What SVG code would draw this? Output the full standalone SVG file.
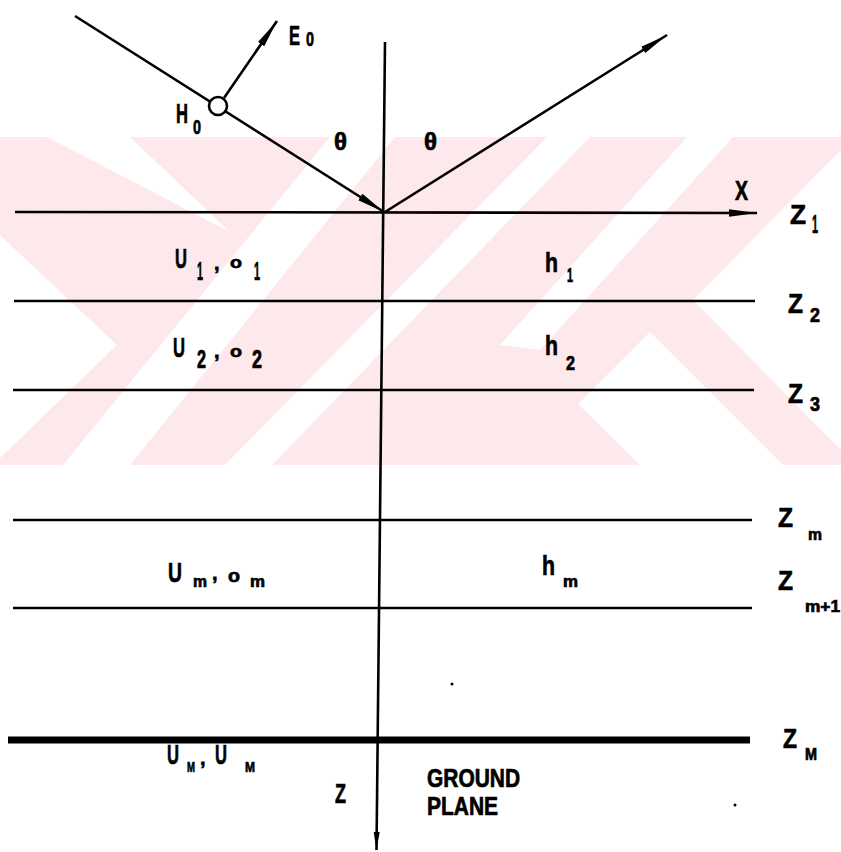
<svg xmlns="http://www.w3.org/2000/svg" width="841" height="852" viewBox="0 0 841 852">
<style>
.ln{stroke:#000;stroke-width:2.6;fill:none}
.t{font-family:"Liberation Sans",Arial,sans-serif;font-weight:bold;fill:#000;stroke:#000;stroke-width:0.7}
.b{font-size:28px}
.s{font-size:20px}
.d{font-size:25px}
.wm{fill:#fde8ec}
.wc{fill:#fff}
</style>
<defs>
<marker id="ah" markerWidth="30" markerHeight="10" refX="28" refY="5" orient="auto" markerUnits="userSpaceOnUse">
<path d="M0,1.2 L28,5 L0,8.8 Z" fill="#000"/>
</marker>
<marker id="ahs" markerWidth="20" markerHeight="8" refX="18" refY="4" orient="auto" markerUnits="userSpaceOnUse">
<path d="M0,1 L18,4 L0,7 Z" fill="#000"/>
</marker>
<clipPath id="band"><rect x="0" y="137" width="841" height="328"/></clipPath>
</defs>
<rect width="841" height="852" fill="#fff"/>
<g id="watermark" clip-path="url(#band)">
<rect class="wm" x="0" y="137" width="841" height="328"/>
<polygon class="wc" points="47,137 130,137 230,232"/>
<polygon class="wc" points="0,235 117,345 0,458"/>
<polygon class="wc" points="330,137 395,137 130,465 63,465"/>
<polygon class="wc" points="547,137 590,137 272,465 225,465"/>
<polygon class="wc" points="687,137 733,137 540,350 500,345"/>
<polygon class="wc" points="841,150 693,300 841,450"/>
<polygon class="wc" points="650,332 783,465 640,465 578,404"/>
</g>
<g id="connectors">
<line class="ln" x1="385" y1="42" x2="376.5" y2="850" marker-end="url(#ahs)"/>
<line class="ln" x1="15" y1="212" x2="757" y2="213" marker-end="url(#ah)"/>
<line class="ln" x1="75" y1="16" x2="384" y2="212" marker-end="url(#ah)"/>
<line class="ln" x1="385" y1="212" x2="667" y2="35" marker-end="url(#ah)"/>
<line class="ln" x1="224" y1="98" x2="277" y2="21" marker-end="url(#ah)"/>
</g>
<g id="layers">
<line class="ln" x1="14" y1="301" x2="755" y2="301"/>
<line class="ln" x1="13" y1="390" x2="754" y2="390"/>
<line class="ln" x1="13" y1="520" x2="752" y2="520"/>
<line class="ln" x1="13" y1="608" x2="752" y2="608"/>
<line x1="8" y1="740" x2="750" y2="740" stroke="#000" stroke-width="7"/>
</g>
<g id="h0-node">
<circle cx="218" cy="106" r="9" fill="#fff" stroke="#000" stroke-width="2.6"/>
</g>
<g id="labels">
<text class="t b" x="289" y="45" textLength="11" lengthAdjust="spacingAndGlyphs">E</text>
<text class="t s" x="306" y="46" textLength="8" lengthAdjust="spacingAndGlyphs">0</text>
<text class="t b" x="176" y="123" textLength="12" lengthAdjust="spacingAndGlyphs">H</text>
<text class="t s" x="193" y="134" textLength="8" lengthAdjust="spacingAndGlyphs">0</text>
<text class="t" font-size="23" x="334" y="150" textLength="13" lengthAdjust="spacingAndGlyphs">θ</text>
<text class="t" font-size="23" x="424" y="150" textLength="13" lengthAdjust="spacingAndGlyphs">θ</text>
<text class="t b" x="735" y="200" textLength="13" lengthAdjust="spacingAndGlyphs">X</text>
<text class="t b" x="790" y="224" textLength="16" lengthAdjust="spacingAndGlyphs">Z</text>
<text class="t d" x="812" y="233" textLength="6" lengthAdjust="spacingAndGlyphs">1</text>
<text class="t b" x="788" y="313" textLength="15" lengthAdjust="spacingAndGlyphs">Z</text>
<text class="t s" x="810" y="322" textLength="10" lengthAdjust="spacingAndGlyphs">2</text>
<text class="t b" x="788" y="403" textLength="15" lengthAdjust="spacingAndGlyphs">Z</text>
<text class="t s" x="810" y="411" textLength="10" lengthAdjust="spacingAndGlyphs">3</text>
<text class="t b" x="778" y="527" textLength="15" lengthAdjust="spacingAndGlyphs">Z</text>
<text class="t" font-size="17" x="808" y="540" textLength="14" lengthAdjust="spacingAndGlyphs">m</text>
<text class="t b" x="778" y="590" textLength="15" lengthAdjust="spacingAndGlyphs">Z</text>
<text class="t" font-size="17" x="805" y="612" textLength="35" lengthAdjust="spacingAndGlyphs">m+1</text>
<text class="t b" x="783" y="748" textLength="14" lengthAdjust="spacingAndGlyphs">Z</text>
<text class="t" font-size="16" x="805" y="760" textLength="12" lengthAdjust="spacingAndGlyphs">M</text>
<text class="t b" x="175" y="268" textLength="12" lengthAdjust="spacingAndGlyphs">U</text>
<text class="t d" x="197" y="280" textLength="6" lengthAdjust="spacingAndGlyphs">1</text>
<text class="t s" x="214" y="270">,</text>
<text class="t" font-size="17" x="230" y="268" textLength="12" lengthAdjust="spacingAndGlyphs">o</text>
<text class="t d" x="254" y="280" textLength="6" lengthAdjust="spacingAndGlyphs">1</text>
<text class="t b" x="173" y="357" textLength="12" lengthAdjust="spacingAndGlyphs">U</text>
<text class="t d" x="197" y="368" textLength="9" lengthAdjust="spacingAndGlyphs">2</text>
<text class="t s" x="214" y="358">,</text>
<text class="t" font-size="17" x="230" y="357" textLength="12" lengthAdjust="spacingAndGlyphs">o</text>
<text class="t d" x="252" y="368" textLength="10" lengthAdjust="spacingAndGlyphs">2</text>
<text class="t b" x="168" y="582" textLength="14" lengthAdjust="spacingAndGlyphs">U</text>
<text class="t" font-size="17" x="193" y="587" textLength="14" lengthAdjust="spacingAndGlyphs">m</text>
<text class="t s" x="212" y="580">,</text>
<text class="t" font-size="18" x="228" y="582" textLength="12" lengthAdjust="spacingAndGlyphs">o</text>
<text class="t" font-size="17" x="250" y="587" textLength="15" lengthAdjust="spacingAndGlyphs">m</text>
<text class="t b" x="167" y="764" textLength="12" lengthAdjust="spacingAndGlyphs">U</text>
<text class="t" font-size="15" x="187" y="772" textLength="8" lengthAdjust="spacingAndGlyphs">M</text>
<text class="t s" x="200" y="765">,</text>
<text class="t b" x="215" y="764" textLength="12" lengthAdjust="spacingAndGlyphs">U</text>
<text class="t" font-size="15" x="245" y="772" textLength="10" lengthAdjust="spacingAndGlyphs">M</text>
<text class="t b" x="545" y="272" textLength="13" lengthAdjust="spacingAndGlyphs">h</text>
<text class="t s" x="567" y="282" textLength="6" lengthAdjust="spacingAndGlyphs">1</text>
<text class="t b" x="545" y="355" textLength="13" lengthAdjust="spacingAndGlyphs">h</text>
<text class="t s" x="566" y="370" textLength="9" lengthAdjust="spacingAndGlyphs">2</text>
<text class="t b" x="542" y="575" textLength="13" lengthAdjust="spacingAndGlyphs">h</text>
<text class="t" font-size="17" x="563" y="587" textLength="15" lengthAdjust="spacingAndGlyphs">m</text>
<text class="t b" x="335" y="803" textLength="11" lengthAdjust="spacingAndGlyphs">Z</text>
<text class="t" font-size="25" x="427" y="787" textLength="93" lengthAdjust="spacingAndGlyphs">GROUND</text>
<text class="t" font-size="25" x="427" y="815" textLength="71" lengthAdjust="spacingAndGlyphs">PLANE</text>
</g>
<g id="specks">
<circle cx="452" cy="684" r="1.5" fill="#000"/>
<circle cx="735" cy="805" r="1.5" fill="#000"/>
</g>
</svg>
